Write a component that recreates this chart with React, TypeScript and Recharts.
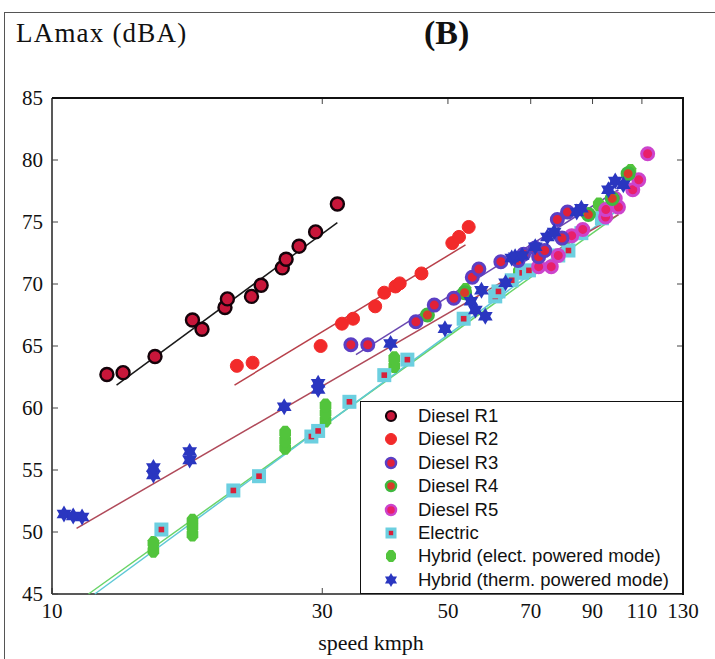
import React from 'react';
import { ScatterChart, Scatter, XAxis, YAxis, ReferenceDot, ReferenceLine } from 'recharts';

type Pt = [number, number];

// speed (km/h) and LAmax (dBA)
const speedTicks = [10, 30, 50, 70, 90, 110, 130];
const levelTicks = [45, 50, 55, 60, 65, 70, 75, 80, 85];

const dieselR1: Pt[] = [
  [12.5, 62.7], [13.35, 62.85], [15.2, 64.15], [17.7, 67.1], [18.4, 66.35], [20.2, 68.1],
  [20.4, 68.8], [22.5, 69.0], [23.4, 69.9], [25.5, 71.3], [25.9, 72.0], [27.3, 73.05],
  [29.2, 74.2], [31.9, 76.45],
];
const dieselR2: Pt[] = [
  [21.2, 63.4], [22.6, 63.65], [29.8, 65.0], [32.5, 66.8], [34.0, 67.2], [37.2, 68.2],
  [38.6, 69.3], [40.4, 69.8], [41.1, 70.05], [44.9, 70.85], [50.9, 73.3], [52.3, 73.8],
  [54.4, 74.6],
];
const dieselR3: Pt[] = [
  [33.7, 65.1], [36.1, 65.1], [43.9, 66.95], [47.3, 68.3], [51.2, 68.85], [55.2, 70.55],
  [56.7, 71.2], [62.0, 71.8], [66.5, 71.9], [68.0, 72.4], [71.3, 72.9], [72.3, 72.2],
  [74.1, 72.7], [78.0, 75.2], [79.5, 73.7], [81.3, 75.8],
];
const dieselR4: Pt[] = [[46.0, 67.5], [53.5, 69.3], [88.5, 75.6], [97.5, 76.9], [104, 78.9]];
const dieselR5: Pt[] = [
  [72.3, 71.4], [76.1, 71.4], [78.3, 72.3], [82.7, 73.9], [86.5, 74.4], [94.9, 75.4],
  [95, 76.0], [98.7, 76.9], [100, 76.2], [106, 77.6], [108.6, 78.4], [112.6, 80.5],
];
const electric: Pt[] = [
  [15.6, 50.2], [20.9, 53.35], [23.2, 54.5], [28.7, 57.7], [29.5, 58.15], [33.5, 60.5],
  [38.6, 62.65], [42.4, 63.9], [53.3, 67.2], [60.6, 69.0], [61.4, 69.4], [64.8, 70.3],
  [67.6, 70.9], [69.5, 71.1], [78.3, 72.3], [81.6, 72.7], [86, 74.1], [93.5, 75.3],
  [97.7, 76.8],
];
const hybridElect: Pt[] = [
  [15.1, 48.5], [15.1, 49.1], [17.7, 49.8], [17.7, 50.4], [17.7, 50.9], [25.8, 56.8],
  [25.8, 57.4], [25.8, 58.0], [30.4, 59.0], [30.4, 59.6], [30.4, 60.2], [40.2, 63.4],
  [40.2, 64.0], [53.7, 69.5], [66.7, 71.0], [80, 73.6], [92.3, 76.4], [105, 79.1],
];
const hybridTherm: Pt[] = [
  [10.5, 51.45], [10.9, 51.3], [11.3, 51.2], [15.1, 54.6], [15.1, 55.2], [17.5, 55.8],
  [17.5, 56.5], [25.7, 60.1], [29.5, 61.5], [29.5, 62.0], [39.6, 65.2], [49.4, 66.4],
  [54.9, 68.6], [55.9, 67.9], [57.3, 69.5], [58.2, 67.4], [63.2, 70.1], [64.8, 72.1],
  [65.7, 72.2], [67.6, 72.3], [71.3, 73.0], [74.9, 73.8], [77.0, 74.2], [84.4, 75.8],
  [86, 76.1], [96, 77.6], [98.7, 78.3], [102, 78.0],
];

// regression line end points
const fitR1: Pt[] = [[13.0, 61.85], [31.9, 74.95]];
const fitR2: Pt[] = [[21.0, 61.85], [53.7, 73.15]];
const fitR3: Pt[] = [[34.4, 64.3], [100, 77.6]];
const fitTherm: Pt[] = [[11.05, 50.3], [100, 75.6]];
const fitElectric: Pt[] = [[11.9, 45.0], [100, 76.0]];
const fitElect: Pt[] = [[11.6, 45.0], [100, 75.6]];

const legendNames = [
  'Diesel R1',
  'Diesel R2',
  'Diesel R3',
  'Diesel R4',
  'Diesel R5',
  'Electric',
  'Hybrid (elect. powered mode)',
  'Hybrid (therm. powered mode)',
];

const toXY = (pts: Pt[]) => pts.map(([speed, level]) => ({ speed, level }));

const serif = '"Liberation Serif", "DejaVu Serif", serif';
const sans = '"Liberation Sans", Arial, sans-serif';

const ring = (stroke: string, fill: string, r: number, sw: number) => (x: number, y: number) => (
  <circle cx={x} cy={y} r={r} fill={fill} stroke={stroke} strokeWidth={sw} />
);
const square = (s: number) => (x: number, y: number) => (
  <g>
    <rect x={x - s / 2} y={y - s / 2} width={s} height={s} fill="#6ccfe0" />
    <rect x={x - s / 5} y={y - s / 5} width={(s * 2) / 5} height={(s * 2) / 5} fill="#d8203a" />
  </g>
);
const blob = (r: number) => (x: number, y: number) => {
  const pts: string[] = [];
  for (let i = 0; i < 8; i++) {
    const a = (Math.PI / 4) * i + Math.PI / 8;
    pts.push(`${x + r * 0.9 * Math.cos(a)},${y + r * 1.1 * Math.sin(a)}`);
  }
  return <polygon points={pts.join(' ')} fill="#52c43c" />;
};
const star = (r: number) => (x: number, y: number) => {
  const tri = (s: number) =>
    [0, 1, 2]
      .map((k) => {
        const a = -Math.PI / 2 + (k * 2 * Math.PI) / 3 + (s ? Math.PI : 0);
        return `${x + r * Math.cos(a)},${y + r * Math.sin(a)}`;
      })
      .join(' ');
  return (
    <g fill="#2a36c0">
      <polygon points={tri(0)} />
      <polygon points={tri(1)} />
    </g>
  );
};

const markers = [
  { big: ring('#14030a', '#c8163a', 6.5, 2.4), small: ring('#14030a', '#c8163a', 5, 2.2) },
  { big: ring('#f22a2a', '#f22a2a', 6.5, 1), small: ring('#f22a2a', '#f22a2a', 5.5, 1) },
  { big: ring('#5b3fc4', '#e0213a', 6, 3), small: ring('#5b3fc4', '#e0213a', 5, 2.5) },
  { big: ring('#3fb83f', '#d83a2a', 6, 3), small: ring('#3fb83f', '#d83a2a', 5, 2.5) },
  { big: ring('#cc44cc', '#e8206a', 6, 3), small: ring('#cc44cc', '#e8206a', 5, 2.5) },
  { big: square(14), small: square(11) },
  { big: blob(7), small: blob(6) },
  { big: star(8.5), small: star(7) },
];

const series: Pt[][] = [dieselR1, dieselR2, dieselR3, dieselR4, dieselR5, electric, hybridElect, hybridTherm];
const fits = [
  { pts: fitElect, color: '#6ad468' },
  { pts: fitElectric, color: '#5fc8d6' },
  { pts: fitTherm, color: '#b04a5a' },
  { pts: fitR3, color: '#6a48b0' },
  { pts: fitR2, color: '#b8404a' },
  { pts: fitR1, color: '#1a1a1a' },
];
// draw order of marker series (bottom to top)
const drawOrder = [6, 5, 4, 3, 2, 7, 1, 0];

const noShape = () => <g />;
const frameAxis = { stroke: '#222', strokeWidth: 1.5 };

// inward tick marks on the top and right edges of the frame
const topTick = (p: any) => <line x1={p.cx} x2={p.cx} y1={p.cy} y2={p.cy + 6} stroke="#444" />;
const rightTick = (p: any) => <line x1={p.cx} x2={p.cx - 6} y1={p.cy} y2={p.cy} stroke="#444" />;

export default function App() {
  const yMax = levelTicks[levelTicks.length - 1];
  const xMax = speedTicks[speedTicks.length - 1];
  return (
    <div style={{ position: 'absolute', left: 0, top: 0, width: 715, height: 659, overflow: 'hidden', background: '#fff' }}>
      <style>{`.recharts-cartesian-axis-tick-value { font-family: ${serif}; }`}</style>
      <div style={{ position: 'absolute', left: 4, top: 12, width: 760, height: 700, border: '1px solid #555' }} />
      <div style={{ position: 'absolute', left: 16, top: 18, fontFamily: serif, fontSize: 27, letterSpacing: 1.2, color: '#111' }}>
        LAmax (dBA)
      </div>
      <div style={{ position: 'absolute', left: 424, top: 14, fontFamily: serif, fontSize: 34, fontWeight: 'bold', color: '#111' }}>
        (B)
      </div>
      <div style={{ position: 'absolute', left: 0, width: 742, top: 630, textAlign: 'center', fontFamily: serif, fontSize: 22, color: '#111' }}>
        speed kmph
      </div>
      <ScatterChart width={715} height={659} margin={{ top: 98, right: 32, bottom: 35, left: 12 }} style={{ position: 'absolute', left: 0, top: 0 }}>
        <XAxis
          type="number"
          dataKey="speed"
          scale="log"
          domain={[10, 130]}
          ticks={speedTicks}
          interval={0}
          height={30}
          tickSize={-6}
          tickMargin={15}
          axisLine={frameAxis}
          tickLine={{ stroke: '#444' }}
          tick={{ fill: '#111', fontSize: 21, fontFamily: serif }}
        />
        <YAxis
          type="number"
          dataKey="level"
          domain={[45, 85]}
          ticks={levelTicks}
          interval={0}
          width={40}
          tickSize={-6}
          tickMargin={15}
          axisLine={frameAxis}
          tickLine={{ stroke: '#444' }}
          tick={{ fill: '#111', fontSize: 21, fontFamily: serif }}
        />
        <ReferenceLine y={yMax} stroke="#111" strokeWidth={2} ifOverflow="visible" />
        <ReferenceLine x={xMax} stroke="#111" strokeWidth={2} ifOverflow="visible" />
        {speedTicks.slice(1, -1).map((t) => (
          <ReferenceDot key={'tt' + t} x={t} y={yMax} shape={topTick} ifOverflow="visible" />
        ))}
        {levelTicks.slice(1, -1).map((t) => (
          <ReferenceDot key={'rt' + t} x={xMax} y={t} shape={rightTick} ifOverflow="visible" />
        ))}
        {fits.map((f, i) => (
          <Scatter
            key={'fit' + i}
            data={toXY(f.pts)}
            line={{ stroke: f.color, strokeWidth: 1.5 }}
            shape={noShape}
            isAnimationActive={false}
          />
        ))}
        {drawOrder.map((si) => (
          <Scatter
            key={legendNames[si]}
            name={legendNames[si]}
            data={toXY(series[si])}
            shape={(p: any) => markers[si].big(p.cx, p.cy)}
            isAnimationActive={false}
          />
        ))}
      </ScatterChart>
      {/* top and right edges of the plot box, drawn over the chart */}
      <div
        style={{
          position: 'absolute',
          left: 52,
          top: 97,
          width: 630,
          height: 496,
          borderTop: '2px solid #111',
          borderRight: '2px solid #111',
          pointerEvents: 'none',
        }}
      />
      <div
        style={{
          position: 'absolute',
          left: 360,
          top: 401,
          width: 321,
          height: 191,
          border: '1.5px solid #111',
          background: '#fff',
          fontFamily: sans,
          fontSize: 18.5,
          color: '#111',
        }}
      >
        {legendNames.map((name, i) => (
          <div key={name} style={{ position: 'absolute', left: 0, top: 2 + i * 23.4, height: 23.4, width: '100%' }}>
            <svg width={30} height={24} style={{ position: 'absolute', left: 16, top: 0 }}>
              {markers[i].small(14, 12)}
            </svg>
            <span style={{ position: 'absolute', left: 57, top: 1, whiteSpace: 'nowrap', lineHeight: '22px' }}>{name}</span>
          </div>
        ))}
      </div>
    </div>
  );
}
